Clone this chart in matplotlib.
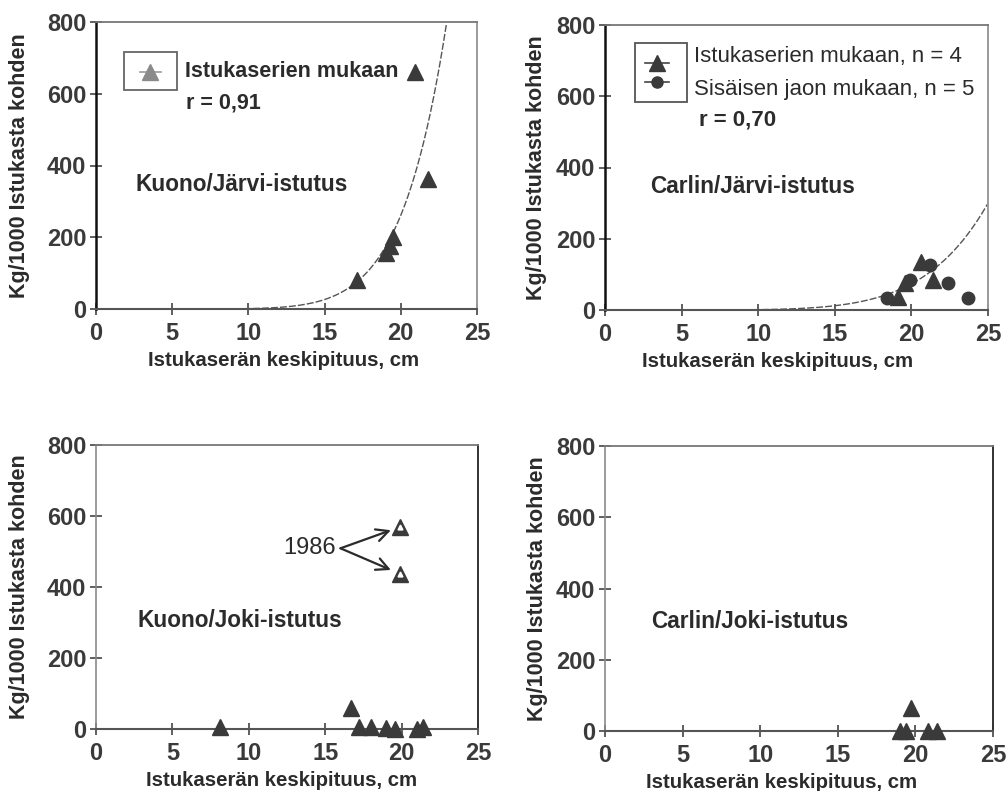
import matplotlib
matplotlib.use("Agg")
import matplotlib.pyplot as plt
from matplotlib.patches import Rectangle
from matplotlib.lines import Line2D
import numpy as np

plt.rcParams['font.family'] = ['Liberation Sans', 'DejaVu Sans']

# ---------------- data ----------------
x_ticks = [0, 5, 10, 15, 20, 25]
y_ticks = [0, 200, 400, 600, 800]
x_label = "Istukaserän keskipituus, cm"
y_label = "Kg/1000 Istukasta kohden"

# Kuono / Järvi
kj_len = [17.1, 19.0, 19.3, 19.5, 21.8, 20.9]
kj_kg = [80, 156, 175, 200, 361, 660]
kj_fit_lna, kj_fit_k = -18.31, 7.97   # power-law fit y = exp(lna) * x**k
kj_fit_range = (2.0, 23.0)

# Carlin / Järvi
cj_tri_len = [20.6, 21.4, 19.6, 19.1]
cj_tri_kg = [136, 84, 76, 37]
cj_circ_len = [18.4, 19.9, 21.2, 22.4, 23.7]
cj_circ_kg = [34, 84, 126, 76, 34]
cj_fit_lna, cj_fit_k = -14.576, 6.3
cj_fit_range = (2.0, 25.0)

# Kuono / Joki
kr_len = [8.1, 16.7, 17.2, 18.0, 19.0, 19.6, 21.0, 21.4]
kr_kg = [5, 58, 6, 6, 2, 0, 0, 6]
kr_1986_len = [19.9, 19.9]
kr_1986_kg = [568, 436]

# Carlin / Joki
cr_len = [19.7, 19.0, 19.4, 20.8, 21.4]
cr_kg = [64, 0, 0, 0, 0]

titles = ["Kuono/Järvi-istutus", "Carlin/Järvi-istutus",
          "Kuono/Joki-istutus", "Carlin/Joki-istutus"]

# ---------------- style ----------------
DARK = "#3a3a3a"
TXT = "#2b2b2b"
MS = 11

fig = plt.figure(figsize=(10.06, 7.91), dpi=100)

positions = [
    [96/1006, (791-309)/791, 381/1006, 287/791],
    [605/1006, (791-310)/791, 383/1006, 285/791],
    [96/1006, (791-729)/791, 382/1006, 284/791],
    [605/1006, (791-731)/791, 388/1006, 285/791],
]
xlab_pos = [(0.493, -0.178), (0.45, -0.182), (0.487, -0.18), (0.454, -0.179)]
ylab_pos = [-0.202, -0.178, -0.2, -0.175]

axes = []
for i, pos in enumerate(positions):
    ax = fig.add_axes(pos)
    ax.set_xlim(0, 25)
    ax.set_ylim(0, 800)
    ax.set_xticks(x_ticks)
    ax.set_yticks(y_ticks)
    ax.tick_params(axis='both', direction='inout', length=8, width=1.2,
                   color="#444444", labelsize=17, labelcolor="#3a3a3a")
    ax.tick_params(axis='x', pad=5)
    ax.tick_params(axis='y', pad=3)
    for lab in ax.get_xticklabels() + ax.get_yticklabels():
        lab.set_fontweight('bold')
    top_row = i < 2
    ax.spines['left'].set_color("#111111" if top_row else "#8a8a8a")
    ax.spines['left'].set_linewidth(1.8 if top_row else 1.2)
    ax.spines['top'].set_color("#777777")
    ax.spines['top'].set_linewidth(1.3)
    ax.spines['right'].set_color("#9a9a9a" if top_row else "#333333")
    ax.spines['right'].set_linewidth(1.4)
    ax.spines['right'].set_linestyle('-' if top_row else (0, (3, 1)))
    ax.spines['bottom'].set_color("#555555")
    ax.spines['bottom'].set_linewidth(1.5)
    ax.text(xlab_pos[i][0], xlab_pos[i][1], x_label, transform=ax.transAxes,
            ha='center', va='center', fontsize=14.7, fontweight='bold', color=TXT)
    ax.text(ylab_pos[i], 0.5, y_label, transform=ax.transAxes, rotation=90,
            ha='center', va='center', fontsize=15.5, fontweight='bold', color=TXT)
    axes.append(ax)

ax1, ax2, ax3, ax4 = axes

# ---- panel 1 ----
xs = np.linspace(*kj_fit_range, 300)
ax1.plot(xs, np.exp(kj_fit_lna) * xs ** kj_fit_k, color="#555555", lw=1.0,
         ls=(0, (5, 1.5)), zorder=2)
ax1.plot(kj_len, kj_kg, ls='none', marker='^', ms=MS, color=DARK, zorder=3,
         clip_on=False)
ax1.text(2.56, 347, titles[0], fontsize=16.3, fontweight='bold', color=TXT,
         ha='left', va='center')
ax1.add_patch(Rectangle((0.073, 0.763), 0.14, 0.132, transform=ax1.transAxes,
                        fill=False, ec="#666666", lw=1.3))
ax1.add_line(Line2D([0.115, 0.17], [0.826, 0.826], transform=ax1.transAxes,
                    color="#999999", lw=1.2))
ax1.plot([0.142], [0.826], transform=ax1.transAxes, marker='^', ms=MS,
         color="#8a8a8a", ls='none')
ax1.text(0.234, 0.826, "Istukaserien mukaan", transform=ax1.transAxes,
         fontsize=15.5, fontweight='bold', color=TXT, ha='left', va='center')
ax1.text(0.236, 0.718, "r = 0,91", transform=ax1.transAxes,
         fontsize=15.5, fontweight='bold', color=TXT, ha='left', va='center')

# ---- panel 2 ----
xs = np.linspace(*cj_fit_range, 300)
ax2.plot(xs, np.exp(cj_fit_lna) * xs ** cj_fit_k, color="#555555", lw=1.0,
         ls=(0, (5, 1.5)), zorder=2)
ax2.plot(cj_tri_len, cj_tri_kg, ls='none', marker='^', ms=MS, color=DARK,
         zorder=3, clip_on=False)
ax2.plot(cj_circ_len, cj_circ_kg, ls='none', marker='o', ms=9, color=DARK,
         zorder=3, clip_on=False)
ax2.text(2.93, 346, titles[1], fontsize=16.3, fontweight='bold', color=TXT,
         ha='left', va='center')
ax2.add_patch(Rectangle((0.078, 0.73), 0.136, 0.207, transform=ax2.transAxes,
                        fill=False, ec="#555555", lw=1.3))
for yy, mk, ms in [(0.867, '^', MS), (0.80, 'o', 8)]:
    ax2.add_line(Line2D([0.105, 0.167], [yy, yy], transform=ax2.transAxes,
                        color="#444444", lw=1.2))
    ax2.plot([0.136], [yy], transform=ax2.transAxes, marker=mk, ms=ms,
             color=DARK, ls='none')
ax2.text(0.232, 0.888, "Istukaserien mukaan, n = 4", transform=ax2.transAxes,
         fontsize=16, color=TXT, ha='left', va='center')
ax2.text(0.232, 0.772, "Sisäisen jaon mukaan, n = 5", transform=ax2.transAxes,
         fontsize=16, color=TXT, ha='left', va='center')
ax2.text(0.245, 0.667, "r = 0,70", transform=ax2.transAxes,
         fontsize=16, fontweight='bold', color=TXT, ha='left', va='center')

# ---- panel 3 ----
ax3.plot(kr_len, kr_kg, ls='none', marker='^', ms=MS, color=DARK, zorder=3,
         clip_on=False)
ax3.plot(kr_1986_len, kr_1986_kg, ls='none', marker='^', ms=MS, color=DARK,
         zorder=3, clip_on=False)
ax3.plot(kr_1986_len, kr_1986_kg, ls='none', marker='^', ms=3.5,
         color="white", zorder=4)
ax3.text(2.7, 307, titles[2], fontsize=16.3, fontweight='bold', color=TXT,
         ha='left', va='center')
ax3.text(14.0, 509, "1986", fontsize=17, color=TXT, ha='center', va='center')
for ty in kr_1986_kg:
    ax3.annotate("", xy=(19.3, ty - 8 if ty > 500 else ty + 12),
                 xytext=(16.0, 509),
                 arrowprops=dict(arrowstyle='->', color=TXT, lw=1.6,
                                 mutation_scale=22, shrinkA=0, shrinkB=0))

# ---- panel 4 ----
ax4.plot(cr_len, cr_kg, ls='none', marker='^', ms=MS, color=DARK, zorder=3,
         clip_on=False)
ax4.text(3.0, 307, titles[3], fontsize=16.3, fontweight='bold', color=TXT,
         ha='left', va='center')

fig.savefig("out.png", dpi=100)
